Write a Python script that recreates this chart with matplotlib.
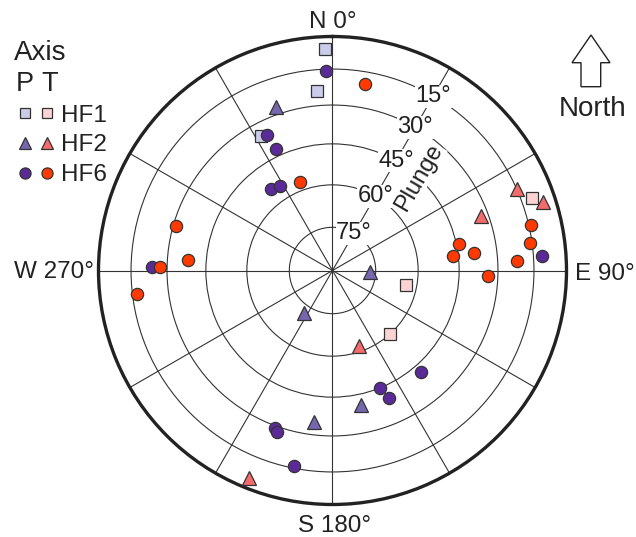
import numpy as np
import matplotlib
matplotlib.use("Agg")
import matplotlib.pyplot as plt
from matplotlib.patches import Polygon

plt.rcParams['font.family'] = ['Liberation Sans', 'DejaVu Sans']

# azimuth (deg, clockwise from N) and plunge (deg) of P and T axes
p_hf1_az = [358, 355, 332]
p_hf1_pl = [6, 24, 35]
p_hf2_az = [341, 92, 214, 168, 187]
p_hf2_pl = [27, 77, 72, 41, 35]
p_hf6_az = [358, 334, 335, 323, 328, 86, 271, 139, 158, 156, 200, 199, 191]
p_hf6_pl = [16, 36, 42, 54, 55, 11, 24, 42, 45, 40, 29, 28, 16]

t_hf1_az = [70, 101, 138]
t_hf1_pl = [10, 64, 60]
t_hf2_az = [66, 72, 70, 161, 202]
t_hf2_pl = [15, 6, 33, 62, 5]
t_hf6_az = [10, 340, 77, 82, 78, 83, 83, 87, 92, 286, 274, 271, 263]
t_hf6_pl = [20, 57, 14, 16, 44, 47, 39, 22, 34, 31, 38, 27, 17]

ring_pl = [15, 30, 45, 60, 75]
ring_labels = ['15°', '30°', '45°', '60°', '75°']

c_p1, c_t1 = '#cbcce9', '#fdd3d3'
c_p2, c_t2 = '#7666ae', '#f46b6b'
c_p6, c_t6 = '#5a2a98', '#ff3a00'
edge = '#333333'
txt = '#222222'


def proj(pl):
    # lower hemisphere equal-area (Schmidt) radius, 1 at plunge 0
    th = np.radians(90 - np.asarray(pl, dtype=float))
    return np.sqrt(2) * np.sin(th / 2)


W, H = 636, 537
fig = plt.figure(figsize=(W / 100, H / 100), dpi=100)
cx, cy, R = 332.5, 270.5, 234
ax = fig.add_axes([(cx - R) / W, (H - cy - R) / H, 2 * R / W, 2 * R / H],
                  projection='polar')
ax.set_theta_zero_location('N')
ax.set_theta_direction(-1)
ax.set_ylim(0, 1)
ax.set_yticks(proj(ring_pl))
ax.set_yticklabels([])
ax.set_xticks(np.radians(np.arange(0, 360, 30)))
ax.set_xticklabels([])
ax.grid(color='#333333', lw=0.8)
ax.spines['polar'].set_linewidth(2.4)
ax.spines['polar'].set_color('#222222')

for r, lab in zip(proj(ring_pl), ring_labels):
    ax.text(np.radians(30), r, lab, fontsize=17, color=txt, ha='center', va='center',
            bbox=dict(facecolor='white', edgecolor='none', pad=0.3), zorder=3)
ax.text(np.radians(43), 0.543, 'Plunge', fontsize=17, color=txt, rotation=60,
        ha='center', va='center', rotation_mode='anchor',
        bbox=dict(facecolor='white', edgecolor='none', pad=0.3), zorder=3)

series = [
    (p_hf1_az, p_hf1_pl, 's', 8, c_p1),
    (t_hf1_az, t_hf1_pl, 's', 8, c_t1),
    (p_hf2_az, p_hf2_pl, '^', 10.5, c_p2),
    (t_hf2_az, t_hf2_pl, '^', 10.5, c_t2),
    (p_hf6_az, p_hf6_pl, 'o', 8.8, c_p6),
    (t_hf6_az, t_hf6_pl, 'o', 8.8, c_t6),
]
for i, (az, pl, m, ms, c) in enumerate(series):
    ax.plot(np.radians(az), proj(pl), ls='none', marker=m, ms=ms, mfc=c,
            mec=edge, mew=0.9, zorder=4 + i, clip_on=False)

# overlay in pixel coordinates for labels, legend and north arrow
lax = fig.add_axes([0, 0, 1, 1])
lax.set_xlim(0, W)
lax.set_ylim(H, 0)
lax.set_axis_off()
lax.patch.set_visible(False)

lax.text(333, 28.5, 'N 0°', fontsize=17.5, color=txt, ha='center', va='baseline')
lax.text(575, 280.5, 'E 90°', fontsize=17.5, color=txt, ha='left', va='baseline')
lax.text(335, 531.5, 'S 180°', fontsize=17.5, color=txt, ha='center', va='baseline')
lax.text(93.5, 278.5, 'W 270°', fontsize=17.5, color=txt, ha='right', va='baseline')

lax.text(14, 60, 'Axis', fontsize=20, color=txt, ha='left', va='baseline')
lax.text(25, 91, 'P', fontsize=19.5, color=txt, ha='center', va='baseline')
lax.text(49.5, 91, 'T', fontsize=19.5, color=txt, ha='center', va='baseline')
leg = [('HF1', 's', 6.5, c_p1, c_t1, 113.3),
       ('HF2', '^', 9, c_p2, c_t2, 142.7),
       ('HF6', 'o', 8, c_p6, c_t6, 172.7)]
for lab, m, ms, cp, ct, y in leg:
    lax.plot([25], [y], marker=m, ms=ms, mfc=cp, mec=edge, mew=0.9, ls='none')
    lax.plot([46.7], [y], marker=m, ms=ms, mfc=ct, mec=edge, mew=0.9, ls='none')
    lax.text(61, y + 8.5, lab, fontsize=17.5, color=txt, ha='left', va='baseline')

arrow = Polygon([(591, 35), (572, 62.7), (581, 62.7), (581, 86.7), (600.7, 86.7),
                 (600.7, 62.7), (610, 62.7)], closed=True, facecolor='white',
                edgecolor='#222222', lw=1.0)
lax.add_patch(arrow)
lax.text(593, 116, 'North', fontsize=20, color=txt, ha='center', va='baseline')

fig.savefig('out.png', dpi=100)
